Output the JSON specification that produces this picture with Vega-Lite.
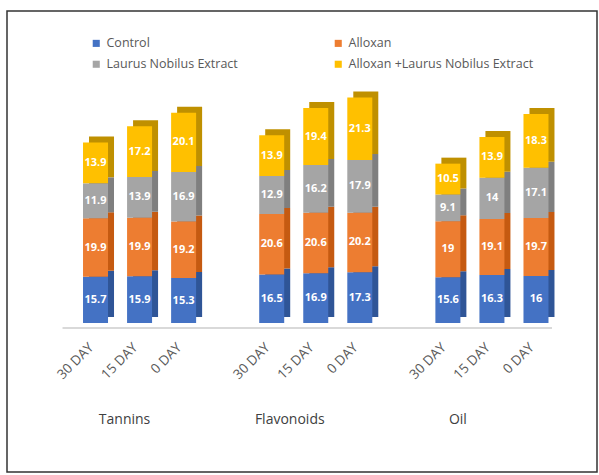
{
  "$schema": "https://vega.github.io/schema/vega-lite/v6.json",
  "width": 590,
  "height": 461,
  "autosize": {"type": "none"},
  "padding": {"left": 7, "top": 11, "right": 2, "bottom": 3},
  "background": "white",
  "config": {
    "view": {"stroke": "#333333", "strokeWidth": 1.5},
    "font": "Open Sans"
  },
  "data": {
    "values": [
      {"g": "Tannins", "d": "30 DAY", "s": "Control", "v": 15.7},
      {"g": "Tannins", "d": "30 DAY", "s": "Alloxan", "v": 19.9},
      {"g": "Tannins", "d": "30 DAY", "s": "Laurus Nobilus Extract", "v": 11.9},
      {"g": "Tannins", "d": "30 DAY", "s": "Alloxan +Laurus Nobilus Extract", "v": 13.9},
      {"g": "Tannins", "d": "15 DAY", "s": "Control", "v": 15.9},
      {"g": "Tannins", "d": "15 DAY", "s": "Alloxan", "v": 19.9},
      {"g": "Tannins", "d": "15 DAY", "s": "Laurus Nobilus Extract", "v": 13.9},
      {"g": "Tannins", "d": "15 DAY", "s": "Alloxan +Laurus Nobilus Extract", "v": 17.2},
      {"g": "Tannins", "d": "0 DAY", "s": "Control", "v": 15.3},
      {"g": "Tannins", "d": "0 DAY", "s": "Alloxan", "v": 19.2},
      {"g": "Tannins", "d": "0 DAY", "s": "Laurus Nobilus Extract", "v": 16.9},
      {"g": "Tannins", "d": "0 DAY", "s": "Alloxan +Laurus Nobilus Extract", "v": 20.1},
      {"g": "Flavonoids", "d": "30 DAY", "s": "Control", "v": 16.5},
      {"g": "Flavonoids", "d": "30 DAY", "s": "Alloxan", "v": 20.6},
      {"g": "Flavonoids", "d": "30 DAY", "s": "Laurus Nobilus Extract", "v": 12.9},
      {"g": "Flavonoids", "d": "30 DAY", "s": "Alloxan +Laurus Nobilus Extract", "v": 13.9},
      {"g": "Flavonoids", "d": "15 DAY", "s": "Control", "v": 16.9},
      {"g": "Flavonoids", "d": "15 DAY", "s": "Alloxan", "v": 20.6},
      {"g": "Flavonoids", "d": "15 DAY", "s": "Laurus Nobilus Extract", "v": 16.2},
      {"g": "Flavonoids", "d": "15 DAY", "s": "Alloxan +Laurus Nobilus Extract", "v": 19.4},
      {"g": "Flavonoids", "d": "0 DAY", "s": "Control", "v": 17.3},
      {"g": "Flavonoids", "d": "0 DAY", "s": "Alloxan", "v": 20.2},
      {"g": "Flavonoids", "d": "0 DAY", "s": "Laurus Nobilus Extract", "v": 17.9},
      {"g": "Flavonoids", "d": "0 DAY", "s": "Alloxan +Laurus Nobilus Extract", "v": 21.3},
      {"g": "Oil", "d": "30 DAY", "s": "Control", "v": 15.6},
      {"g": "Oil", "d": "30 DAY", "s": "Alloxan", "v": 19},
      {"g": "Oil", "d": "30 DAY", "s": "Laurus Nobilus Extract", "v": 9.1},
      {"g": "Oil", "d": "30 DAY", "s": "Alloxan +Laurus Nobilus Extract", "v": 10.5},
      {"g": "Oil", "d": "15 DAY", "s": "Control", "v": 16.3},
      {"g": "Oil", "d": "15 DAY", "s": "Alloxan", "v": 19.1},
      {"g": "Oil", "d": "15 DAY", "s": "Laurus Nobilus Extract", "v": 14},
      {"g": "Oil", "d": "15 DAY", "s": "Alloxan +Laurus Nobilus Extract", "v": 13.9},
      {"g": "Oil", "d": "0 DAY", "s": "Control", "v": 16},
      {"g": "Oil", "d": "0 DAY", "s": "Alloxan", "v": 19.7},
      {"g": "Oil", "d": "0 DAY", "s": "Laurus Nobilus Extract", "v": 17.1},
      {"g": "Oil", "d": "0 DAY", "s": "Alloxan +Laurus Nobilus Extract", "v": 18.3}
    ]
  },
  "transform": [
    {"calculate": "datum.g + ' ' + datum.d", "as": "bar"},
    {"calculate": "indexof(['Control', 'Alloxan', 'Laurus Nobilus Extract', 'Alloxan +Laurus Nobilus Extract'], datum.s)", "as": "ord"},
    {"stack": "v", "groupby": ["bar"], "sort": [{"field": "ord", "order": "ascending"}], "as": ["v0", "v1"]},
    {"calculate": "(datum.v0 + datum.v1) / 2", "as": "mid"}
  ],
  "layer": [
    {
      "transform": [
        {"filter": "datum.bar == 'Tannins 30 DAY' && datum.ord == 0"},
        {"calculate": "'Oil 0 DAY'", "as": "lastbar"}
      ],
      "mark": {"type": "rule", "color": "#D9D9D9", "strokeWidth": 2, "xOffset": -33, "x2Offset": 16, "yOffset": 5},
      "encoding": {
        "x": {"field": "bar", "type": "nominal", "axis": null},
        "x2": {"field": "lastbar"},
        "y": {"field": "v0", "type": "quantitative", "axis": null}
      }
    },
    {
      "mark": {"type": "bar", "width": 25, "xOffset": 6, "yOffset": -6, "y2Offset": -6},
      "encoding": {
        "x": {
          "field": "bar", "type": "nominal",
          "scale": {
            "domain": ["Tannins 30 DAY", "Tannins 15 DAY", "Tannins 0 DAY", "gap1",
                       "Flavonoids 30 DAY", "Flavonoids 15 DAY", "Flavonoids 0 DAY", "gap2",
                       "Oil 30 DAY", "Oil 15 DAY", "Oil 0 DAY"],
            "range": [66.5, 551],
            "paddingInner": 0, "paddingOuter": 0
          },
          "axis": {
            "title": null, "orient": "bottom", "offset": -144,
            "domain": false, "ticks": false, "labelAngle": 0,
            "labelPadding": 84, "labelOverlap": false,
            "labelOffset": {"condition": [
              {"test": "datum.value == 'Tannins 15 DAY'", "value": -15},
              {"test": "datum.value == 'Flavonoids 15 DAY'", "value": -26}
            ], "value": -34},
            "labelFontSize": 14, "labelColor": "#404040", "labelFont": "Open Sans",
            "labelExpr": "indexof(datum.value, ' 15 DAY') > 0 ? slice(datum.value, 0, indexof(datum.value, ' ')) : ''"
          }
        },
        "y": {"field": "v1", "type": "quantitative", "axis": null,
              "scale": {"domain": [-50.68, 106.12], "zero": false, "nice": false}},
        "y2": {"field": "v0"},
        "color": {
          "field": "s", "type": "nominal", "legend": null,
          "scale": {
            "domain": ["Control", "Alloxan", "Laurus Nobilus Extract", "Alloxan +Laurus Nobilus Extract"],
            "range": ["#2F5597", "#C55A11", "#7F7F7F", "#BF9000"]
          }
        }
      }
    },
    {
      "mark": {"type": "bar", "width": 25},
      "encoding": {
        "x": {
          "field": "bar", "type": "nominal",
          "axis": {
            "title": null, "orient": "bottom", "offset": -144,
            "domain": false,
            "ticks": false, "labelAngle": -45, "labelAlign": "right", "labelBaseline": "middle",
            "labelPadding": 17, "labelOffset": -4, "labelOverlap": false,
            "labelFontSize": 13.5, "labelColor": "#595959", "labelFont": "Open Sans",
            "labelExpr": "indexof(datum.value, 'gap') == 0 ? '' : slice(datum.value, indexof(datum.value, ' ') + 1)"
          }
        },
        "y": {"field": "v1", "type": "quantitative", "axis": null},
        "y2": {"field": "v0"},
        "color": {
          "field": "s", "type": "nominal",
          "scale": {
            "domain": ["Control", "Laurus Nobilus Extract", "Alloxan", "Alloxan +Laurus Nobilus Extract"],
            "range": ["#4472C4", "#A5A5A5", "#ED7D31", "#FFC000"]
          },
          "legend": {
            "title": null, "orient": "none", "legendX": 83, "legendY": 26,
            "columns": 2, "columnPadding": 94, "rowPadding": 8,
            "symbolType": "square", "symbolSize": 50, "symbolStrokeWidth": 0,
            "labelFontSize": 12.5, "labelColor": "#595959", "labelLimit": 300, "labelOffset": 4
          }
        }
      }
    },
    {
      "mark": {"type": "text", "color": "white", "fontWeight": "bold", "fontSize": 11, "baseline": "middle"},
      "encoding": {
        "x": {"field": "bar", "type": "nominal", "axis": null},
        "y": {"field": "mid", "type": "quantitative", "axis": null},
        "text": {"field": "v", "type": "quantitative"}
      }
    }
  ],
  "resolve": {"scale": {"color": "independent"}, "axis": {"x": "independent"}}
}
